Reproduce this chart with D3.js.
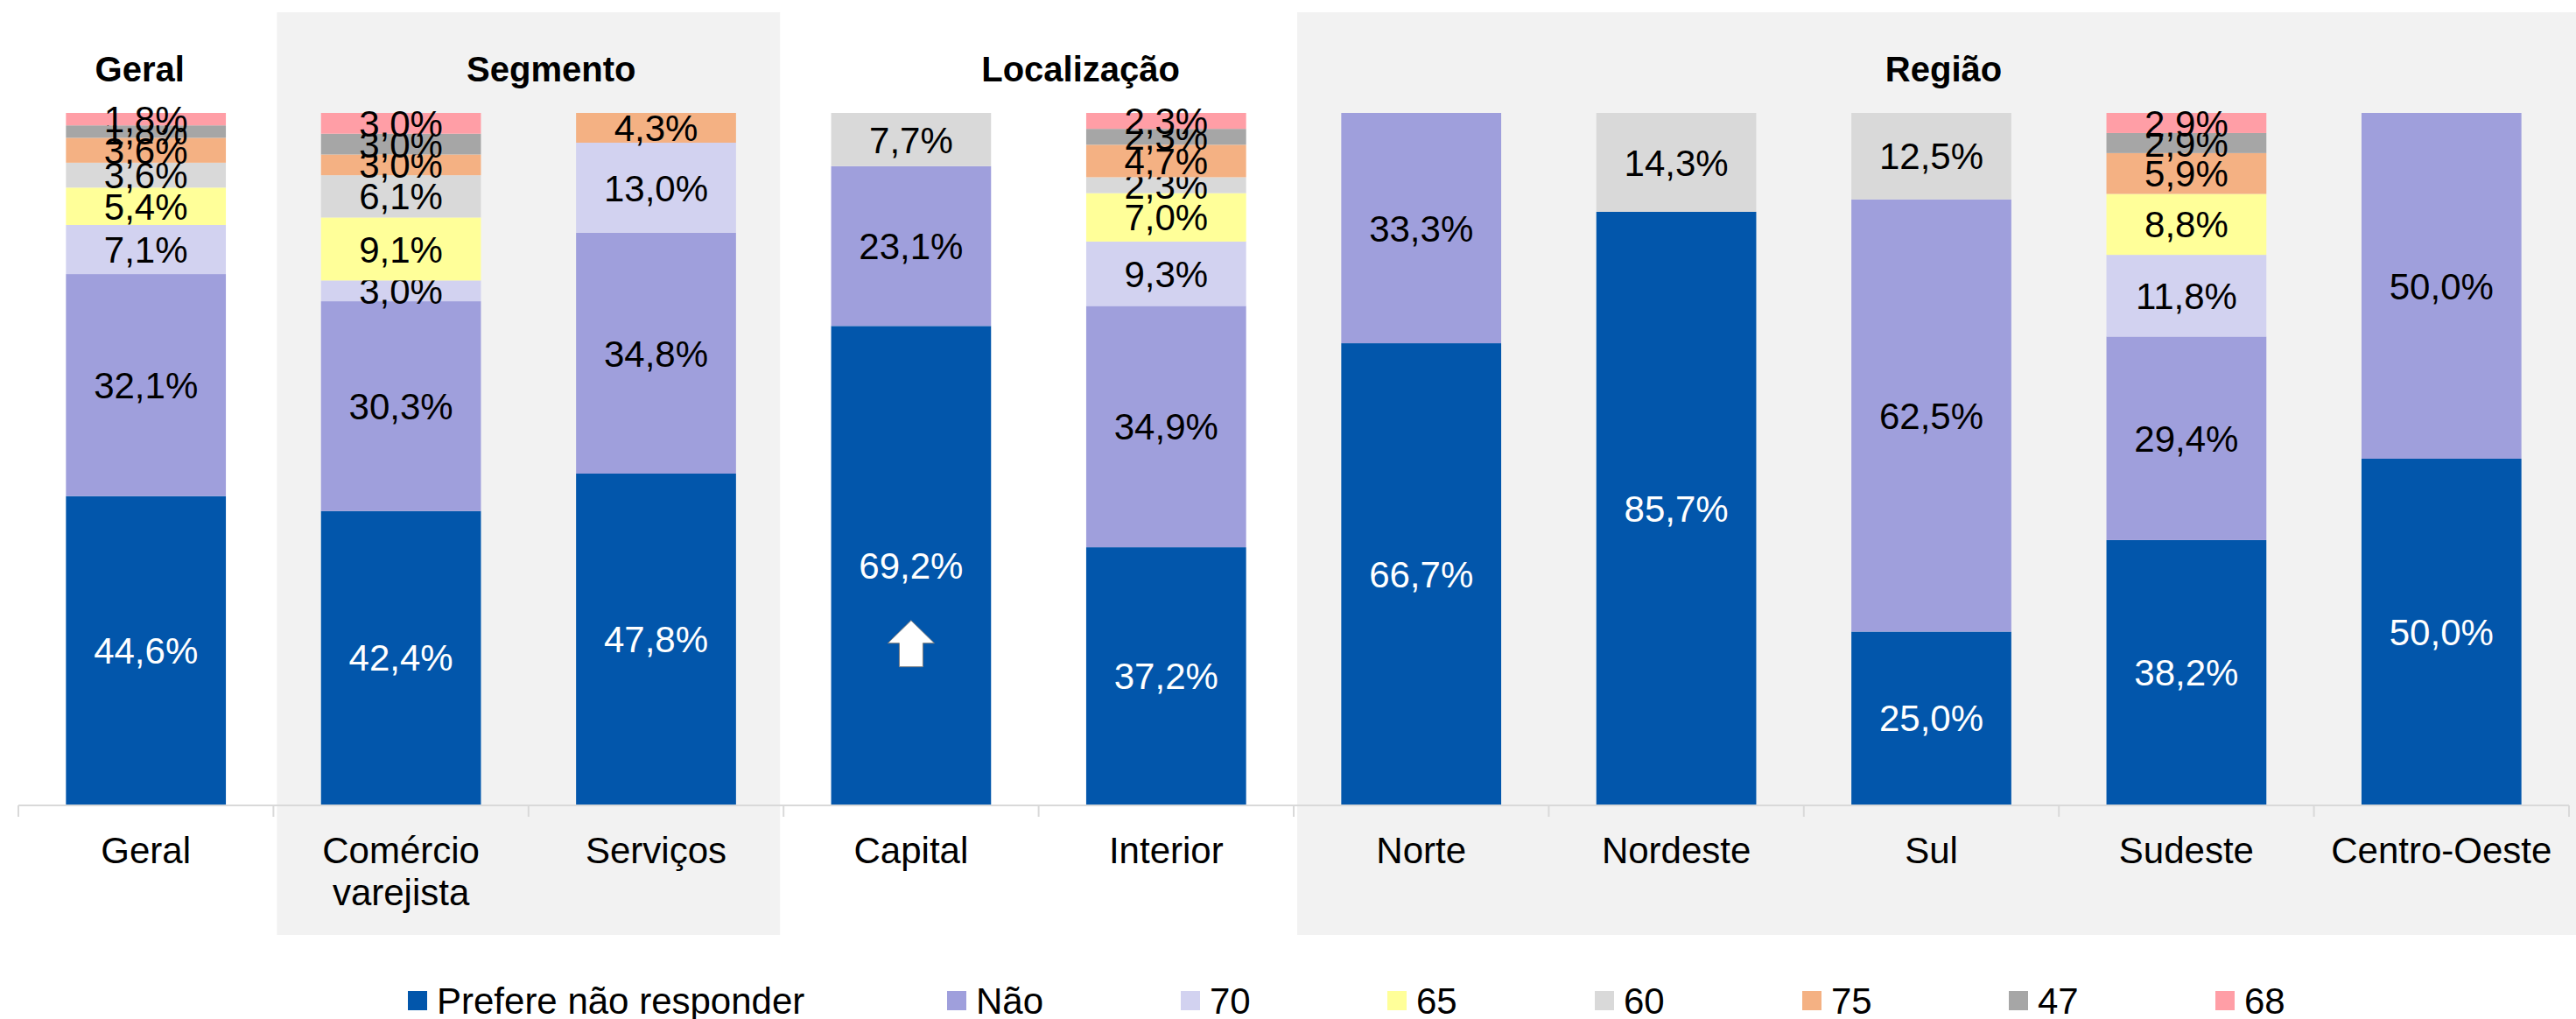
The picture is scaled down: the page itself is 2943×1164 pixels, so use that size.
<!DOCTYPE html>
<html>
<head>
<meta charset="utf-8">
<script src="https://cdn.jsdelivr.net/npm/d3@7"></script>
<style>
  body { margin: 0; background: #fff; }
  text { font-family: "Liberation Sans", Arial, sans-serif; }
</style>
</head>
<body>
<div id="chart"></div>
<script>
// Categories and series (values in %)
const categories = ["Geral", "Comércio\nvarejista", "Serviços", "Capital", "Interior",
  "Norte", "Nordeste", "Sul", "Sudeste", "Centro-Oeste"];
const seriesNames = ["Prefere não responder", "Não", "70", "65", "60", "75", "47", "68"];
const seriesColors = ["#0256AB", "#9F9FDC", "#D2D2F0", "#FFFF99", "#D9D9D9", "#F4B183", "#A6A6A6", "#FF9EA6"];

const prefere = [44.6, 42.4, 47.8, 69.2, 37.2, 66.7, 85.7, 25.0, 38.2, 50.0];
const nao     = [32.1, 30.3, 34.8, 23.1, 34.9, 33.3, 0, 62.5, 29.4, 50.0];
const s70     = [7.1, 3.0, 13.0, 0, 9.3, 0, 0, 0, 11.8, 0];
const s65     = [5.4, 9.1, 0, 0, 7.0, 0, 0, 0, 8.8, 0];
const s60     = [3.6, 6.1, 0, 7.7, 2.3, 0, 14.3, 12.5, 0, 0];
const s75     = [3.6, 3.0, 4.3, 0, 4.7, 0, 0, 0, 5.9, 0];
const s47     = [1.8, 3.0, 0, 0, 2.3, 0, 0, 0, 2.9, 0];
const s68     = [1.8, 3.0, 0, 0, 2.3, 0, 0, 0, 2.9, 0];

// group titles: first and last category index
const groupTitles = ["Geral", "Segmento", "Localização", "Região"];
const groupFrom = [0, 1, 3, 5];
const groupTo = [0, 2, 4, 9];

var width = 2943, height = 1164;

var svg = d3.select("#chart")
  .append("svg")
  .attr("width", width)
  .attr("height", height);

// build rows for d3.stack
var allSeries = [prefere, nao, s70, s65, s60, s75, s47, s68];
var rows = categories.map(function (c, i) {
  var r = { category: c };
  seriesNames.forEach(function (s, j) { r[s] = allSeries[j][i]; });
  return r;
});

var stacked = d3.stack()
  .keys(seriesNames)
  .offset(d3.stackOffsetExpand)(rows);

var x = d3.scaleBand()
  .domain(categories)
  .range([21, 2935])
  .paddingInner(0.373)
  .paddingOuter(0.1865);

var y = d3.scaleLinear().domain([0, 1]).range([919, 129]);

var step = x.step();
function leftEdge(i) { return x(categories[i]) - x.bandwidth() / 2 - (step - x.bandwidth()) / 2 + x.bandwidth() / 2; }
function slotStart(i) { return x(categories[i]) - (step - x.bandwidth()) / 2; }

// grey background panels for Segmento and Região
var panels = [[1, 2], [5, 9]];
panels.forEach(function (p, k) {
  var x0 = slotStart(p[0]) + 4;
  var x1 = k === 1 ? width : slotStart(p[1]) + step - 4;
  svg.append("rect")
    .attr("x", x0)
    .attr("y", 14)
    .attr("width", x1 - x0)
    .attr("height", 1068 - 14)
    .attr("fill", "#F2F2F2");
});

// group titles
var titleShift = [-7, 26, 48, 14];
groupTitles.forEach(function (t, k) {
  var cx = (x(categories[groupFrom[k]]) + x(categories[groupTo[k]]) + x.bandwidth()) / 2;
  svg.append("text")
    .attr("x", cx + titleShift[k])
    .attr("y", 93)
    .attr("text-anchor", "middle")
    .style("font-size", "40px")
    .style("font-weight", "bold")
    .attr("fill", "#000")
    .text(t);
});

// bars
var layers = svg.selectAll(".layer")
  .data(stacked)
  .enter()
  .append("g")
  .attr("class", "layer")
  .attr("fill", function (d, i) { return seriesColors[i]; });

layers.selectAll("rect")
  .data(function (d) { return d; })
  .enter()
  .append("rect")
  .attr("x", function (d) { return x(d.data.category); })
  .attr("y", function (d) { return y(d[1]); })
  .attr("width", x.bandwidth())
  .attr("height", function (d) { return y(d[0]) - y(d[1]); });

// value labels
layers.each(function (layer, i) {
  d3.select(this).selectAll("text")
    .data(layer.filter(function (d) { return d.data[layer.key] > 0; }))
    .enter()
    .append("text")
    .attr("x", function (d) { return x(d.data.category) + x.bandwidth() / 2; })
    .attr("y", function (d) { return (y(d[0]) + y(d[1])) / 2; })
    .attr("dy", "0.36em")
    .attr("text-anchor", "middle")
    .style("font-size", "42px")
    .attr("fill", i === 0 ? "#fff" : "#000")
    .text(function (d) { return d.data[layer.key].toFixed(1).replace(".", ",") + "%"; });
});

// arrow in Capital bar
var capital = stacked[0][3];
var ax = x(categories[3]) + x.bandwidth() / 2;
var ay = (y(capital[0]) + y(capital[1])) / 2 + 63;
svg.append("path")
  .attr("d", "M" + ax + "," + ay +
    " L" + (ax + 26.5) + "," + (ay + 26) +
    " L" + (ax + 13.5) + "," + (ay + 26) +
    " L" + (ax + 13.5) + "," + (ay + 53) +
    " L" + (ax - 13.5) + "," + (ay + 53) +
    " L" + (ax - 13.5) + "," + (ay + 26) +
    " L" + (ax - 26.5) + "," + (ay + 26) + " Z")
  .attr("fill", "#fff")
  .attr("stroke", "#7F7F7F")
  .attr("stroke-width", 1);

// x axis line and ticks at slot boundaries
svg.append("line")
  .attr("x1", 21).attr("x2", 2935)
  .attr("y1", 920).attr("y2", 920)
  .attr("stroke", "#D9D9D9")
  .attr("stroke-width", 2);

d3.range(categories.length + 1).forEach(function (i) {
  var tx = 21 + i * step;
  svg.append("line")
    .attr("x1", tx).attr("x2", tx)
    .attr("y1", 920).attr("y2", 933)
    .attr("stroke", "#D9D9D9")
    .attr("stroke-width", 2);
});

// category labels (may wrap on two lines)
categories.forEach(function (c) {
  var t = svg.append("text")
    .attr("x", x(c) + x.bandwidth() / 2)
    .attr("y", 986)
    .attr("text-anchor", "middle")
    .style("font-size", "42px")
    .attr("fill", "#000");
  c.split("\n").forEach(function (line, k) {
    t.append("tspan")
      .attr("x", x(c) + x.bandwidth() / 2)
      .attr("dy", k === 0 ? 0 : 48)
      .text(line);
  });
});

// legend
var legendX = [466, 1082, 1349, 1585, 1822, 2059, 2295, 2531];
var legend = svg.selectAll(".legend")
  .data(seriesNames)
  .enter()
  .append("g")
  .attr("class", "legend")
  .attr("transform", function (d, i) { return "translate(" + legendX[i] + ",1132)"; });

legend.append("rect")
  .attr("width", 22)
  .attr("height", 22)
  .attr("fill", function (d, i) { return seriesColors[i]; });

legend.append("text")
  .attr("x", 33)
  .attr("y", 11)
  .attr("dy", "0.36em")
  .style("font-size", "42px")
  .attr("fill", "#000")
  .text(function (d) { return d; });
</script>
</body>
</html>
